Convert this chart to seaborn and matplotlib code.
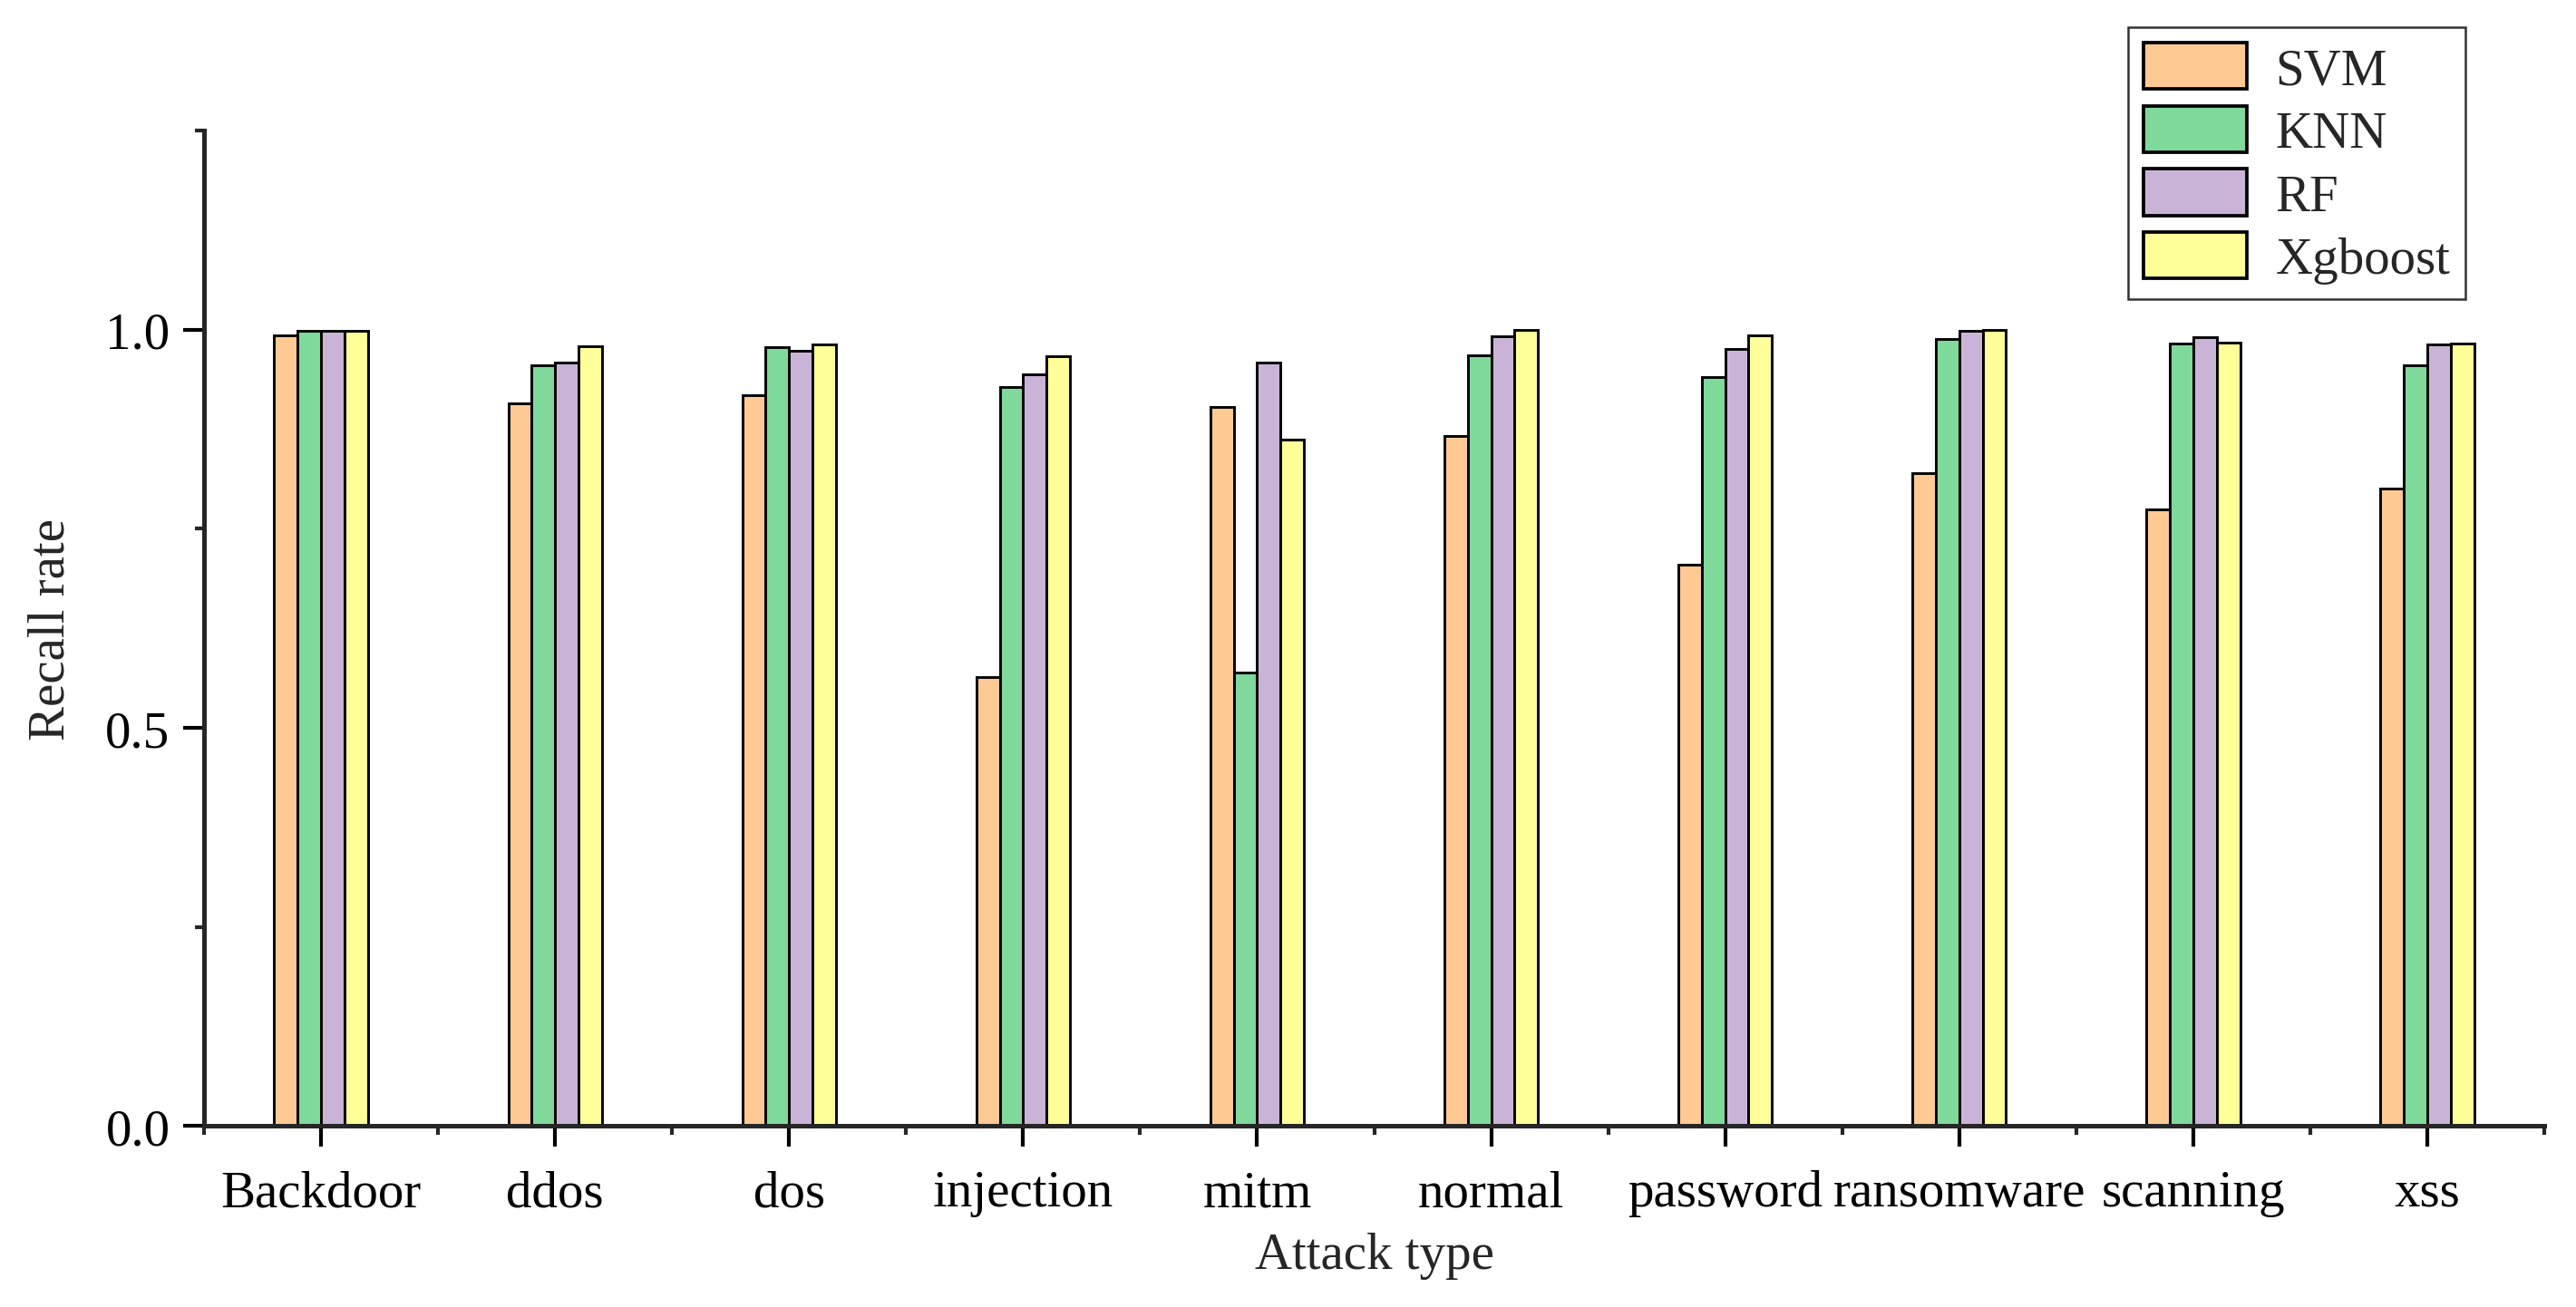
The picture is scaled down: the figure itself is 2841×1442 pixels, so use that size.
import numpy as np
import pandas as pd
import seaborn as sns
import matplotlib.pyplot as plt
from matplotlib.patches import Patch
from matplotlib.ticker import FixedLocator, MultipleLocator

attacks = ['Backdoor', 'ddos', 'dos', 'injection', 'mitm', 'normal',
           'password', 'ransomware', 'scanning', 'xss']
models = ['SVM', 'KNN', 'RF', 'Xgboost']

svm = [0.993, 0.907, 0.918, 0.564, 0.903, 0.867, 0.705, 0.820, 0.774, 0.800]
knn = [0.999, 0.955, 0.978, 0.928, 0.570, 0.968, 0.941, 0.988, 0.983, 0.955]
rf = [0.998, 0.959, 0.974, 0.944, 0.959, 0.992, 0.976, 0.998, 0.990, 0.982]
xgb = [0.999, 0.979, 0.981, 0.967, 0.862, 1.000, 0.993, 1.000, 0.984, 0.983]

colors = ['#FFC994', '#7FD99B', '#C9B4D8', '#FFFF99']

df = pd.DataFrame({
    'attack': attacks * 4,
    'model': sum([[m] * len(attacks) for m in models], []),
    'recall': svm + knn + rf + xgb,
})

sns.set_style('ticks')
plt.rcParams['font.family'] = ['Liberation Serif', 'DejaVu Serif']

fig = plt.figure(figsize=(2841 / 300, 1443 / 300), dpi=300)
ax = fig.add_axes([0.0792, 0.1383, 0.9085, 0.7612])

sns.barplot(ax=ax, data=df, x='attack', y='recall', hue='model',
            hue_order=models, order=attacks, palette=colors, width=0.4,
            edgecolor='black', linewidth=0.7, saturation=1, legend=False,
            errorbar=None)

ax.set_xlim(-0.5, 9.5)
ax.set_ylim(0, 1.25)
ax.yaxis.set_major_locator(FixedLocator([0.0, 0.5, 1.0]))
ax.yaxis.set_minor_locator(MultipleLocator(0.25))
ax.set_yticklabels(['0.0', '0.5', '1.0'])
ax.xaxis.set_minor_locator(FixedLocator(np.arange(-0.5, 10, 1.0)))

for s in ['top', 'right']:
    ax.spines[s].set_visible(False)
for s in ['left', 'bottom']:
    ax.spines[s].set_linewidth(1.2)

ax.tick_params(axis='both', which='major', direction='out', length=5.5,
               width=1.0, labelsize=13.7, colors='black')
ax.tick_params(axis='both', which='minor', direction='out', length=2.5,
               width=1.0)
ax.tick_params(axis='x', which='major', pad=6)

ax.set_xlabel('Attack type', fontsize=13.7, labelpad=4)
ax.set_ylabel('Recall rate', fontsize=13.7, labelpad=8)

handles = [Patch(facecolor=c, edgecolor='black', linewidth=0.9) for c in colors]
leg = ax.legend(handles, models, loc='upper left',
                bbox_to_anchor=(0.826, 0.9785), bbox_transform=fig.transFigure,
                fontsize=13.7, frameon=True, fancybox=False, edgecolor='black',
                handlelength=2.0, handleheight=1.0, labelspacing=0.22,
                handletextpad=0.55, borderpad=0.3, borderaxespad=0)
leg.get_frame().set_linewidth(0.6)

plt.savefig('out.png', dpi=300, facecolor='white')
